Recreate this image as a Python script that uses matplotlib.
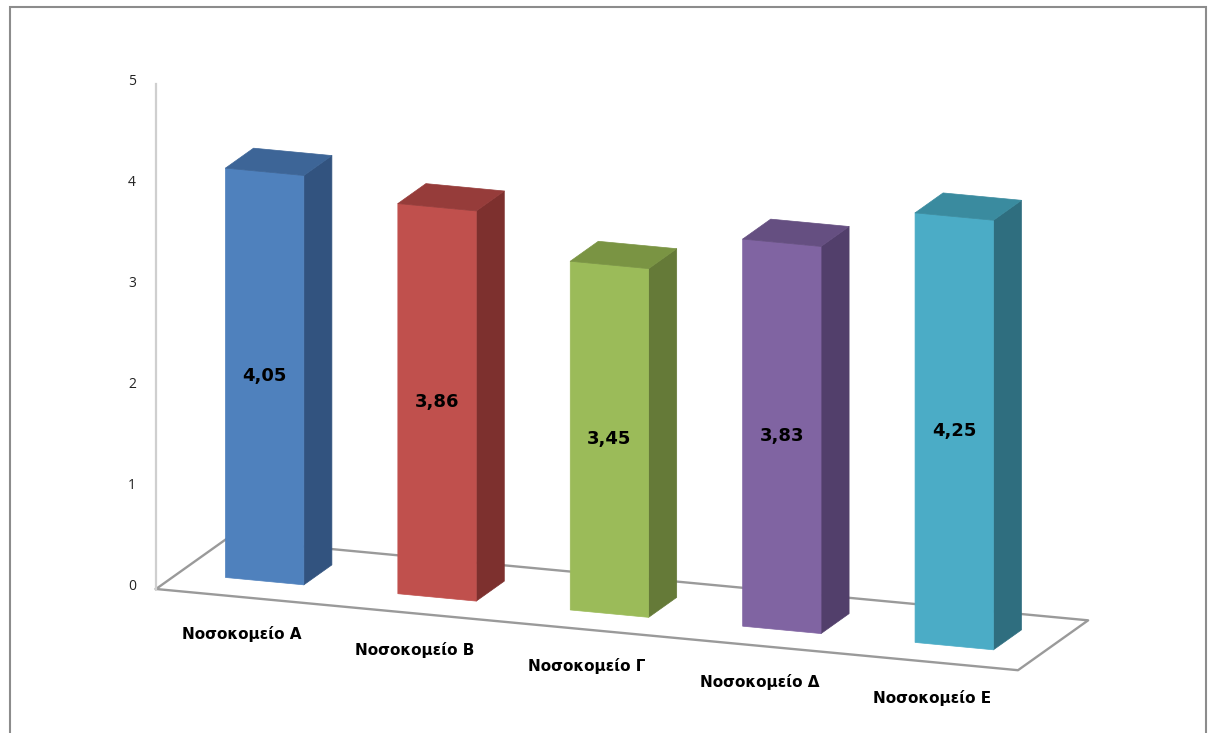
import numpy as np
import matplotlib
matplotlib.use("Agg")
import matplotlib.pyplot as plt
from matplotlib.patches import Rectangle
from mpl_toolkits.mplot3d import proj3d

plt.rcParams['font.family'] = ['DejaVu Sans']

# Data
categories = ["Νοσοκομείο Α", "Νοσοκομείο Β", "Νοσοκομείο Γ", "Νοσοκομείο Δ", "Νοσοκομείο Ε"]
values = [4.05, 3.86, 3.45, 3.83, 4.25]
value_labels = ["4,05", "3,86", "3,45", "3,83", "4,25"]
z_ticks = [0, 1, 2, 3, 4, 5]

# Excel style colours: front / side / top
front_colors = ["#4F81BD", "#C0504D", "#9BBB59", "#8064A2", "#4BACC6"]
side_colors = ["#32537F", "#7D302E", "#657A38", "#523F6B", "#2F6E7F"]
top_colors = ["#3D6597", "#963C3A", "#7A9443", "#654F81", "#3A8B9F"]

W, H = 1208, 733
fig = plt.figure(figsize=(W / 100, H / 100), dpi=100)
ax = fig.add_axes([0, 0, 1, 1], projection='3d', computed_zorder=False)
ax.set_proj_type('ortho')
ax.view_init(elev=15, azim=-70)
ax.set_xlim(0, 5)
ax.set_ylim(0, 1)
ax.set_zlim(0, 5)
ax.set_box_aspect((917, 205, 523))
ax.set_axis_off()
ax.patch.set_visible(False)

n = len(values)
bar_w = 1 / 2.2
xpos = np.arange(n) + (1 - bar_w) / 2
y0, depth = 0.32, 0.4

# faces order in bar3d: bottom, top, front, back, left, right
face_cols = []
for f, s, t in zip(front_colors, side_colors, top_colors):
    face_cols += ["none", t, f, "none", "none", s]

# floor and vertical axis
ax.plot([0, 5, 5, 0, 0], [0, 0, 1, 1, 0], [0, 0, 0, 0, 0], color="#9A9A9A", lw=1.7, zorder=1)
ax.plot([0, 0], [0, 0], [0, 5], color="#CFCFCF", lw=1.6, zorder=1)

ax.bar3d(xpos, np.full(n, y0), np.zeros(n), bar_w, depth, values,
         color=face_cols, edgecolors=face_cols, linewidths=0.5, shade=False, zorder=2)

# place the plot box so that the floor matches the original layout
fig.canvas.draw()


def to_px(x, y, z):
    px, py, _ = proj3d.proj_transform(x, y, z, ax.get_proj())
    return ax.transData.transform((px, py))


o = to_px(0, 0, 0)
r = to_px(5, 0, 0)
s = 862 / (r[0] - o[0])
bb = ax.get_position()
cx, cy = (bb.x0 + bb.x1) / 2 * W, (bb.y0 + bb.y1) / 2 * H
new_w, new_h = bb.width * W * s, bb.height * H * s
ncx = 156 - s * (o[0] - cx)
ncy = (H - 589) - s * (o[1] - cy)
ax.set_position([(ncx - new_w / 2) / W, (ncy - new_h / 2) / H, new_w / W, new_h / H])
fig.canvas.draw()

# labels, placed at the projected 3D positions
for t in z_ticks:
    p = to_px(-0.14, 0, t)
    fig.text(p[0] / W, p[1] / H, str(t), ha='center', va='center', fontsize=10,
             family=['Open Sans', 'DejaVu Sans'], color="#222222")

for i, (cat, v, lab) in enumerate(zip(categories, values, value_labels)):
    p = to_px(i + 0.5, 0, -0.36)
    fig.text(p[0] / W, p[1] / H, cat, ha='center', va='center', fontsize=11,
             fontweight='bold', color="black")
    p = to_px(i + 0.5, y0, v / 2)
    fig.text(p[0] / W, p[1] / H, lab, ha='center', va='center', fontsize=13,
             fontweight='bold', color="black")

# outer chart frame
fig.add_artist(Rectangle((9.5 / W, -0.05), (1206 - 9.5) / W, 1.05 - 7 / H,
                         transform=fig.transFigure, fill=False,
                         edgecolor="#8C8C8C", lw=1.5))

fig.savefig("out.png", dpi=100)
